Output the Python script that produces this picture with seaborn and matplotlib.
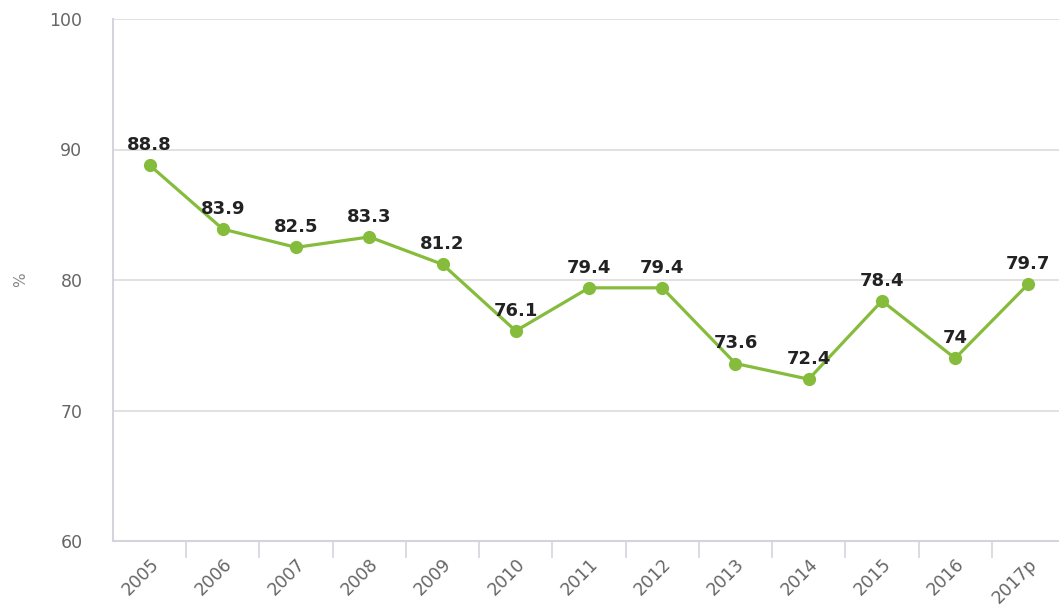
import matplotlib
matplotlib.use("Agg")
import matplotlib.pyplot as plt
import seaborn as sns
import pandas as pd
import numpy as np

years = ["2005", "2006", "2007", "2008", "2009", "2010", "2011",
         "2012", "2013", "2014", "2015", "2016", "2017p"]
values = [88.8, 83.9, 82.5, 83.3, 81.2, 76.1, 79.4, 79.4, 73.6, 72.4, 78.4, 74, 79.7]
value_labels = ["88.8", "83.9", "82.5", "83.3", "81.2", "76.1", "79.4",
                "79.4", "73.6", "72.4", "78.4", "74", "79.7"]
y_ticks = [60, 70, 80, 90, 100]

sns.set_theme(style="white")
plt.rcParams["font.family"] = ["DejaVu Sans"]

df = pd.DataFrame({"year": years, "value": values})
df["pos"] = np.arange(len(years))

fig = plt.figure(figsize=(10.59, 6.12), dpi=100)
ax = fig.add_axes([113 / 1059, 71 / 612, 952 / 1059, 522 / 612])

green = "#86bc3c"
sns.lineplot(data=df, x="pos", y="value", ax=ax, color=green, linewidth=2.3,
             marker="o", markersize=9.5, markeredgewidth=0, sort=False, zorder=3)

for x, y, lab in zip(df["pos"], df["value"], value_labels):
    ax.annotate(lab, (x, y), xytext=(0, 11), textcoords="offset points",
                ha="center", va="baseline", fontsize=13, fontweight="bold",
                color="#222222", zorder=4)

ax.set_xlim(-0.5, len(years) - 0.5)
ax.set_ylim(60, 100)
ax.set_yticks(y_ticks)
ax.yaxis.grid(True, color="#dcdcdc", linewidth=1.2)
ax.set_axisbelow(True)

# category labels at the centres, tick marks at the boundaries
ax.set_xticks(df["pos"])
ax.set_xticklabels(years, rotation=45, ha="right", rotation_mode="anchor",
                   fontsize=12.5, color="#666666")
ax.tick_params(axis="x", which="major", bottom=True, length=0, pad=10)
ax.set_xticks(np.arange(0.5, len(years) - 0.5, 1.0), minor=True)
ax.tick_params(axis="x", which="minor", bottom=True, length=12, width=1.2,
               color="#d4d4dc", direction="out")

ax.tick_params(axis="y", length=0, pad=22, labelsize=12.5, labelcolor="#666666")
ax.set_xlabel("")
ax.set_ylabel("%", fontsize=11, color="#888888", labelpad=15)

for side in ["top", "right"]:
    ax.spines[side].set_visible(False)
for side in ["left", "bottom"]:
    ax.spines[side].set_color("#d4d4dc")
    ax.spines[side].set_linewidth(1.5)

fig.savefig("out.png", dpi=100)
